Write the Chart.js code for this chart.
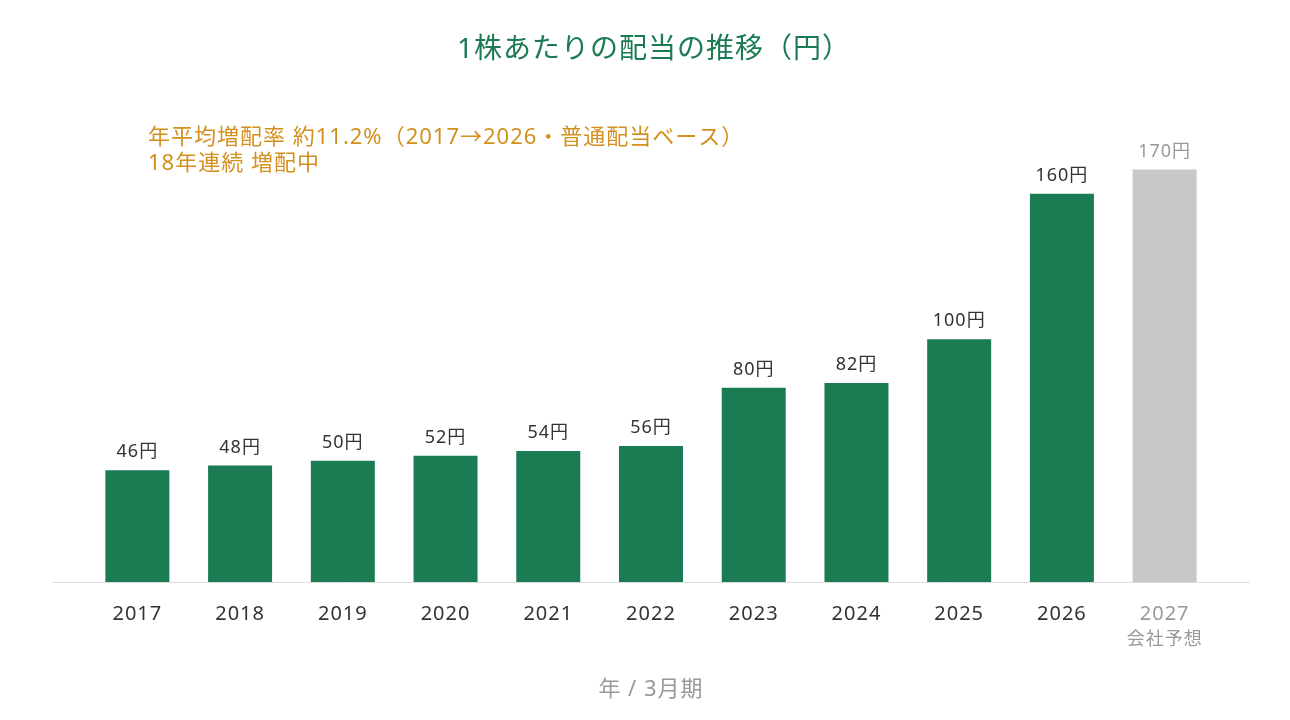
<!DOCTYPE html>
<html lang="ja">
<head>
<meta charset="utf-8">
<script src="https://cdn.jsdelivr.net/npm/chart.js@4"></script>
<style>
  html, body { margin: 0; padding: 0; background: #fff; }
  #wrap { width: 1290px; height: 720px; }
</style>
</head>
<body>
<div id="wrap"><canvas id="dividend"></canvas></div>
<script>
const FONT = '"Noto Sans", "Noto Sans CJK JP", sans-serif';

const YEARS = ['2017', '2018', '2019', '2020', '2021', '2022', '2023', '2024', '2025', '2026', '2027'];
const DIVIDENDS = [46, 48, 50, 52, 54, 56, 80, 82, 100, 160, 170];
const IS_FORECAST = [false, false, false, false, false, false, false, false, false, false, true];
const FORECAST_NOTE = '会社予想';
const NOTES = ['年平均増配率 約11.2%（2017→2026・普通配当ベース）', '18年連続 増配中'];

const GREEN = '#1b7b53';
const GRAY_BAR = '#c8c8c8';
const GRAY_TEXT = '#999999';
const DARK_TEXT = '#333333';

// labels over bars, baseline, notes
const extrasPlugin = {
    id: 'extras',
    beforeDraw(chart) {
        chart.ctx.letterSpacing = '1px';
    },
    afterDatasetsDraw(chart) {
        const ctx = chart.ctx;
        const area = chart.chartArea;
        const xs = chart.scales.x;
        ctx.save();

        // baseline slightly wider than the plot
        ctx.strokeStyle = '#dddddd';
        ctx.lineWidth = 1;
        ctx.beginPath();
        ctx.moveTo(area.left - 34, area.bottom + 0.5);
        ctx.lineTo(area.right + 34, area.bottom + 0.5);
        ctx.stroke();

        // value labels
        ctx.font = '18px ' + FONT;
        ctx.textAlign = 'center';
        ctx.textBaseline = 'middle';
        chart.getDatasetMeta(0).data.forEach((bar, i) => {
            ctx.fillStyle = IS_FORECAST[i] ? GRAY_TEXT : DARK_TEXT;
            ctx.fillText(DIVIDENDS[i] + '円', bar.x, bar.y - 18);
        });

        // second line under forecast year
        ctx.font = '18px ' + FONT;
        ctx.fillStyle = GRAY_TEXT;
        IS_FORECAST.forEach((f, i) => {
            if (f) ctx.fillText(FORECAST_NOTE, xs.getPixelForTick(i), area.bottom + 58);
        });

        // notes top left
        ctx.font = '22px ' + FONT;
        ctx.fillStyle = '#d4901f';
        ctx.textAlign = 'left';
        NOTES.forEach((t, i) => {
            ctx.fillText(t, area.left + 62, 138 + i * 26);
        });
        ctx.restore();
    }
};

new Chart(document.getElementById('dividend'), {
    type: 'bar',
    data: {
        labels: YEARS,
        datasets: [{
            data: DIVIDENDS,
            backgroundColor: IS_FORECAST.map(f => f ? GRAY_BAR : GREEN),
            barPercentage: 0.623,
            categoryPercentage: 1.0,
        }]
    },
    options: {
        responsive: true,
        maintainAspectRatio: false,
        animation: false,
        layout: { padding: { left: 86, right: 68, top: 0, bottom: 0 } },
        plugins: {
            legend: { display: false },
            tooltip: { enabled: false },
            title: {
                display: true,
                text: '1株あたりの配当の推移（円）',
                color: GREEN,
                font: { family: FONT, size: 28, weight: 'normal' },
                padding: { top: 33, bottom: 30 }
            }
        },
        scales: {
            x: {
                grid: { display: false, drawTicks: false },
                border: { display: false },
                ticks: {
                    padding: 20,
                    color: ctx => IS_FORECAST[ctx.index] ? GRAY_TEXT : DARK_TEXT,
                    font: { family: FONT, size: 20 }
                },
                title: {
                    display: true,
                    text: '年 / 3月期',
                    color: GRAY_TEXT,
                    font: { family: FONT, size: 22 },
                    padding: { top: 0, bottom: 17 }
                },
                afterFit: s => { s.height = 138; }
            },
            y: {
                position: 'right',
                min: 0,
                max: 200,
                grid: { display: false },
                border: { display: false },
                ticks: { display: false },
                afterFit: s => { s.width = 6; }
            }
        }
    },
    plugins: [extrasPlugin]
});
</script>
</body>
</html>
